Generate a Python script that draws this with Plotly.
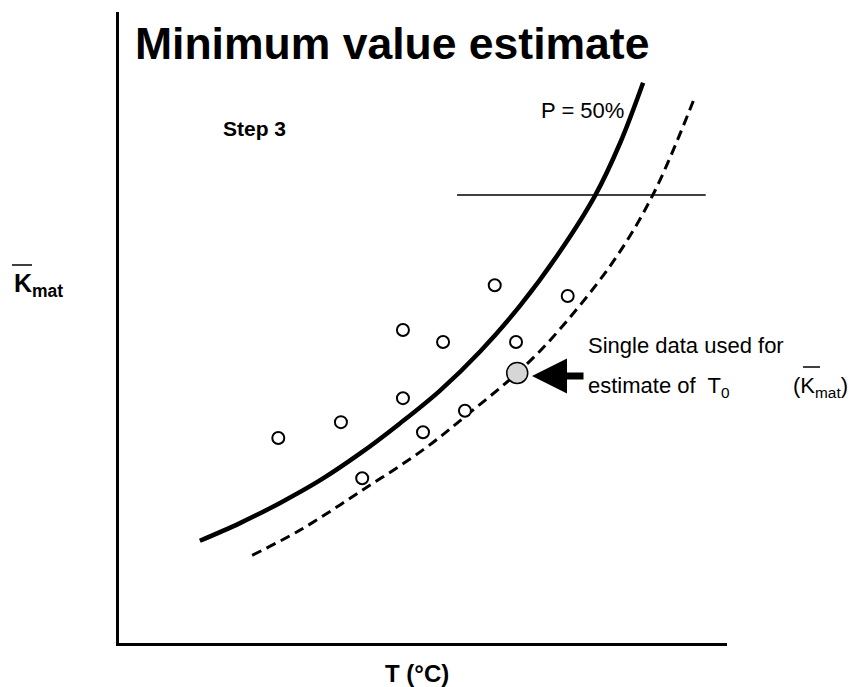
import plotly.graph_objects as go

# ---- data (arbitrary units: T on x, K_mat on y, both 0..100) ----
pts_T = [26.2, 36.5, 46.7, 46.7, 40.0, 50.0, 53.3, 56.9, 61.8, 65.3, 73.8]
pts_K = [32.5, 35.0, 49.6, 38.8, 26.1, 33.4, 47.7, 36.8, 56.7, 47.7, 55.0]

single_T = [65.5]
single_K = [42.8]

p50_T = [13.3, 19.9, 26.5, 33.1, 39.6, 46.2, 52.8, 59.4, 66.0, 72.5, 78.3, 82.4, 86.2]
p50_K = [16.2, 19.0, 22.2, 25.8, 30.0, 34.8, 40.0, 46.2, 53.5, 62.0, 70.9, 79.2, 88.8]

lower_T = [21.9, 29.8, 40.0, 50.0, 57.7, 65.5, 71.2, 81.1, 87.8, 94.7]
lower_K = [13.9, 17.9, 24.2, 30.6, 36.5, 42.8, 48.3, 60.2, 71.0, 86.5]

ref_T = [55.6, 96.5]
ref_K = [71.0, 71.0]

# ---- layout geometry (pixels) ----
W, H = 860, 687
L, R, T, B = 119, 133, 12, 44
PW, PH = W - L - R, H - T - B
FONT = "Liberation Sans, Arial, sans-serif"


def px(x):
    return (x - L) / PW


def py(y):
    return (H - B - y) / PH


fig = go.Figure()

fig.add_trace(go.Scatter(x=ref_T, y=ref_K, mode="lines",
                         line=dict(color="black", width=1.5), hoverinfo="skip"))
fig.add_trace(go.Scatter(x=p50_T, y=p50_K, mode="lines",
                         line=dict(color="black", width=4.5, shape="spline"),
                         hoverinfo="skip"))
fig.add_trace(go.Scatter(x=lower_T, y=lower_K, mode="lines",
                         line=dict(color="black", width=3, shape="spline",
                                   dash="10px,6px"),
                         hoverinfo="skip"))
fig.add_trace(go.Scatter(x=pts_T, y=pts_K, mode="markers",
                         marker=dict(symbol="circle", size=12, color="white",
                                     line=dict(color="black", width=2)),
                         hoverinfo="skip"))
fig.add_trace(go.Scatter(x=single_T, y=single_K, mode="markers",
                         marker=dict(symbol="circle", size=21, color="#d6d6d6",
                                     line=dict(color="black", width=1.5)),
                         hoverinfo="skip"))

ann = []


def text(s, x, y, size, xanchor="left", bold=False):
    ann.append(dict(text=(f"<b>{s}</b>" if bold else s), xref="paper", yref="paper",
                    x=px(x), y=py(y), xanchor=xanchor, yanchor="middle",
                    showarrow=False, font=dict(family=FONT, size=size, color="black")))


text("Minimum value estimate", 133, 43, 44.5, bold=True)
text("Step 3", 221, 128, 21, bold=True)
text("P = 50%", 539, 111, 22)
text("Single data used for", 586, 345, 22)
text("estimate of  T<sub>0</sub>", 586, 387, 22)
text("(K<sub>mat</sub>)", 791, 387, 22)
text("K<sub>mat</sub>", 12, 285, 25, bold=True)
text("T (°C)", 417, 673, 24, xanchor="center", bold=True)

# arrow pointing at the single data point
ann.append(dict(x=px(532), y=py(376), xref="paper", yref="paper", text="",
                showarrow=True, ax=53, ay=0, arrowhead=2, arrowsize=1,
                arrowwidth=7, arrowcolor="black"))

shapes = [
    # overbars on K
    dict(type="line", xref="paper", yref="paper", x0=px(12), x1=px(32),
         y0=py(265), y1=py(265), line=dict(color="black", width=1.5)),
    dict(type="line", xref="paper", yref="paper", x0=px(803), x1=px(820),
         y0=py(367), y1=py(367), line=dict(color="black", width=1.5)),
]

fig.update_layout(
    width=W, height=H,
    margin=dict(l=L, r=R, t=T, b=B, pad=0),
    paper_bgcolor="white", plot_bgcolor="white",
    showlegend=False,
    annotations=ann, shapes=shapes,
    xaxis=dict(range=[0, 100], showgrid=False, zeroline=False, showticklabels=False,
               ticks="", showline=True, linecolor="black", linewidth=3, fixedrange=True),
    yaxis=dict(range=[0, 100], showgrid=False, zeroline=False, showticklabels=False,
               ticks="", showline=True, linecolor="black", linewidth=3, fixedrange=True),
)

fig.write_html("out.html")
